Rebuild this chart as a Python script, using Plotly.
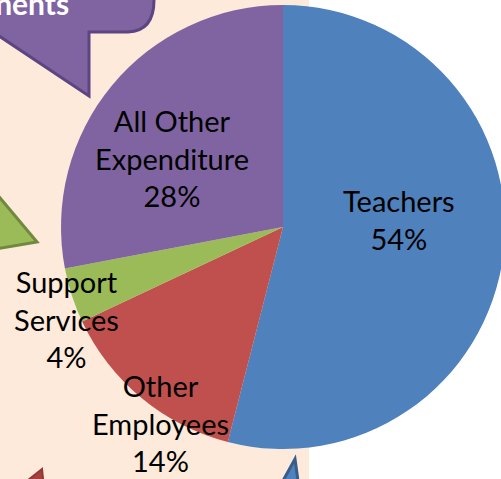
import plotly.graph_objects as go


# --------------------------------------------------------
# DATA
# --------------------------------------------------------

labels = ["Teachers", "Other Employees", "Support Services", "All Other Expenditure"]
label_lines = ["Teachers", "Other<br>Employees", "Support<br>Services", "All Other<br>Expenditure"]
values = [54, 14, 4, 28]
colors = ["#4F81BD", "#C0504D", "#9BBB59", "#8064A2"]

# label centres in pixels (x, y of the whole text block)
label_pos = [(399, 219), (160, 423), (66, 319), (172, 158)]

# figure is slightly wider than the window so the pie is cut at the right
W = 505
H = 479

# pie centre and radius in pixels
cx = 283
cy = 227
r = 222

font_name = "Lato"
font_size = 29


# --------------------------------------------------------
# FIGURE
# --------------------------------------------------------

fig = go.Figure()

fig.add_trace(
    go.Scatter(
        x=[],
        y=[],
        hoverinfo="skip",
        showlegend=False
    )
)

fig.add_trace(

    go.Pie(

        labels=labels,

        values=values,

        sort=False,

        direction="clockwise",

        rotation=0,

        textinfo="none",

        marker=dict(
            colors=colors,
            line=dict(width=0)
        ),

        domain=dict(
            x=[(cx - r) / W, (cx + r) / W],
            y=[(H - cy - r) / H, (H - cy + r) / H]
        ),

        showlegend=False

    )

)

total = sum(values)

for text, (lx, ly), v in zip(label_lines, label_pos, values):

    pct = round(v / total * 100)

    fig.add_annotation(
        x=lx,
        y=ly,
        xref="x",
        yref="y",
        text=f"{text}<br>{pct}%",
        showarrow=False,
        align="center",
        xanchor="center",
        yanchor="middle",
        font=dict(family=font_name, size=font_size, color="#000000")
    )

# title fragment of the callout, cut by the page edge
fig.add_annotation(
    x=71,
    y=23,
    xref="x",
    yref="y",
    text="<b>Components</b>",
    showarrow=False,
    xanchor="right",
    yanchor="bottom",
    font=dict(family=font_name, size=30, color="#FFFFFF")
)

shapes = [

    # peach panel behind the pie
    dict(
        type="rect", x0=0, x1=309, y0=0, y1=H,
        xref="x", yref="y", layer="below",
        fillcolor="#FDEADA", line=dict(width=0)
    ),

    # purple callout
    dict(
        type="path",
        path="M -10,30 L 89,96 L 89,32 L 128,32 Q 154,31 154,0 L 154,-10 L -10,-10 Z",
        xref="x", yref="y", layer="below",
        fillcolor="#8064A2", line=dict(color="#5C4581", width=3)
    ),

    # green triangle
    dict(
        type="path",
        path="M -10,186 L 37,242 L -10,250 Z",
        xref="x", yref="y", layer="below",
        fillcolor="#9BBB59", line=dict(color="#71893F", width=3)
    ),

    # red arrow tip
    dict(
        type="path",
        path="M 42,469 L 18,488 L 44,488 Z",
        xref="x", yref="y", layer="below",
        fillcolor="#A5403D", line=dict(color="#953735", width=2)
    ),

    # blue arrow tip
    dict(
        type="path",
        path="M 295,459 L 279,488 L 299,488 Z",
        xref="x", yref="y", layer="below",
        fillcolor="#4F81BD", line=dict(color="#385D8A", width=3)
    )

]

fig.update_layout(

    width=W,

    height=H,

    margin=dict(l=0, r=0, t=0, b=0),

    paper_bgcolor="#FFFFFF",

    plot_bgcolor="rgba(0,0,0,0)",

    xaxis=dict(
        range=[0, W],
        visible=False,
        fixedrange=True
    ),

    yaxis=dict(
        range=[H, 0],
        visible=False,
        fixedrange=True
    ),

    shapes=shapes

)

# drop the page margin so the chart sits at the window's corner
fig.write_html(
    "out.html",
    config={"displayModeBar": False},
    post_script="document.body.style.margin='0';document.body.style.overflow='hidden';"
)
